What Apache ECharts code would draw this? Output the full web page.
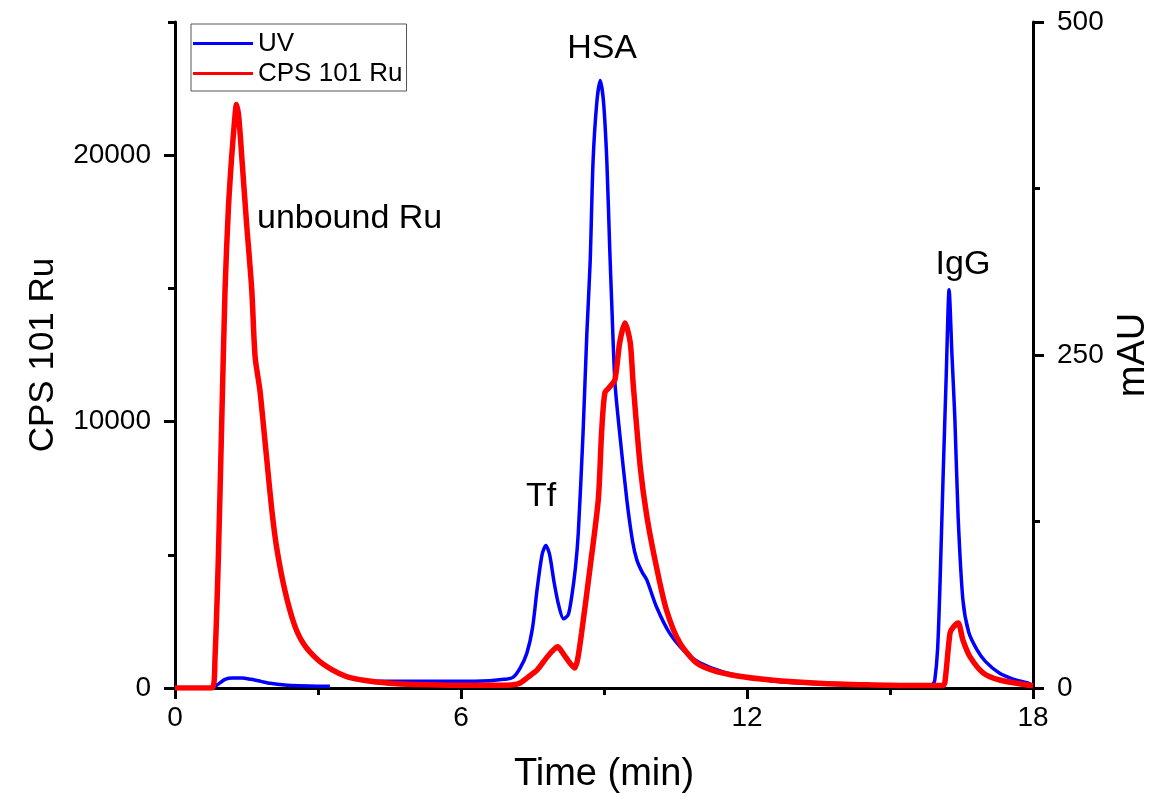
<!DOCTYPE html>
<html>
<head>
<meta charset="utf-8">
<script src="https://cdn.jsdelivr.net/npm/echarts@6/dist/echarts.min.js"></script>
<style>
html,body{margin:0;padding:0;background:#fff;}
#chart{width:1153px;height:801px;}
</style>
</head>
<body>
<div id="chart"></div>
<script>
// UV trace (mAU, right axis)
var uvTime = [0,0.5,0.75,0.85,0.95,1.05,1.2,1.4,1.6,1.8,2.0,2.3,2.6,3.0,3.25,3.3,4.0,4.1,5.0,6.0,6.6,6.9,7.09,7.24,7.38,7.5,7.6,7.7,7.78,7.86,7.95,8.05,8.15,8.25,8.32,8.4,8.46,8.56,8.64,8.71,8.77,8.85,8.92,8.99,9.06,9.12,9.16,9.23,9.33,9.48,9.6,9.69,9.8,9.9,10.1,10.38,10.73,11.01,11.5,12,12.5,13,14,15,15.8,15.9,15.94,16.0,16.05,16.11,16.18,16.24,16.3,16.36,16.43,16.53,16.65,16.82,17.0,17.3,17.6,17.87,18];
var uvValues = [0,0,0.3,1.5,4,6.5,7.5,7.5,6.5,5,3.5,2.2,1.6,1.3,1.3,null,null,5,5,5,5.5,6.5,8,15,26,45,75,100,107,100,80,62,52,55,68,90,116,191,266,320,395,440,456,440,395,330,291,229,191,141,110,96,87,81,61,41,26,19,12,8,5.5,4,2.5,1.8,1.8,3,6,30,79,154,235,299,250,203,128,66,42,29,20,11,6.5,4,2];

// 101Ru ICP-MS trace (CPS, left axis)
var ruTime = [0,0.78,0.84,0.91,0.98,1.05,1.12,1.19,1.25,1.29,1.34,1.40,1.5,1.61,1.68,1.78,1.85,1.92,2.03,2.13,2.3,2.5,2.7,3.0,3.3,3.6,4.0,4.5,5.0,6.0,6.8,7.1,7.24,7.4,7.6,7.8,7.95,8.03,8.1,8.2,8.3,8.39,8.45,8.53,8.71,8.88,8.95,9.02,9.13,9.23,9.33,9.44,9.55,9.61,9.76,9.9,10.1,10.31,10.59,10.94,11.3,11.8,12.5,13.5,14.5,15.5,16.1,16.15,16.26,16.33,16.43,16.53,16.68,16.96,17.3,17.87,18];
var ruValues = [0,0,1170,4920,9960,14960,18000,19960,21300,21900,21400,19960,17480,14960,12440,11200,9960,8680,6700,5300,3700,2400,1650,1050,680,430,280,180,130,100,100,120,190,400,680,1150,1450,1550,1400,1150,900,750,1100,2070,4550,7070,9590,11090,11320,11580,12970,13700,12970,11470,8310,6430,4550,2930,1690,940,650,450,300,180,120,90,90,190,2070,2290,2440,1800,1170,560,300,110,80];

// axis ticks
var xTicks = [0,6,12,18];
var leftLabels = [0,10000,20000];
var rightLabels = [0,250,500];

// peak annotations (time, CPS)
var annoText = ['unbound Ru','Tf','HSA','IgG'];
var annoTime = [1.72,7.68,8.96,16.53];
var annoCps = [17630,7180,23985,15900];

function pairs(t, v){ return t.map(function(x,i){ return [x, v[i]]; }); }

var FONT = '"Liberation Sans", Arial, sans-serif';
var chart = echarts.init(document.getElementById('chart'), null, {renderer:'canvas'});

var annoData = annoText.map(function(s,i){
  return {
    name: s, coord: [annoTime[i], annoCps[i]],
    label: {align: i===0 ? 'left' : 'center'}
  };
});

var option = {
  backgroundColor: '#fff',
  animation: false,
  textStyle: {fontFamily: FONT},
  grid: {left:175, right:120, top:22, bottom:113, outerBoundsMode:'none', containLabel:false},
  legend: {
    left: 191, top: 24, orient: 'vertical',
    data: ['UV','CPS 101 Ru'],
    icon: 'rect', itemWidth: 60, itemHeight: 3, itemGap: 1,
    borderColor: '#555', borderWidth: 1, padding: [5,4,3,2],
    textStyle: {fontSize: 26, color:'#000', fontFamily: FONT, lineHeight: 29}
  },
  xAxis: {
    type: 'value', min: 0, max: 18, interval: 6,
    name: 'Time (min)', nameLocation: 'middle', nameGap: 68,
    nameTextStyle: {fontSize: 38, color:'#000', fontFamily: FONT},
    axisLine: {show:true, onZero:false, lineStyle:{color:'#000', width:3}},
    axisTick: {show:true, inside:false, length:11, lineStyle:{color:'#000', width:3}},
    minorTick: {show:true, splitNumber:2, length:7, lineStyle:{color:'#000', width:3}},
    axisLabel: {fontSize:28, color:'#000', margin:16, fontFamily: FONT},
    splitLine: {show:false}
  },
  yAxis: [
    {
      type:'value', position:'left', min:0, max:25000, interval:5000,
      name:'CPS 101 Ru', nameLocation:'middle', nameGap:114, nameRotate:90,
      nameTextStyle:{fontSize:35, color:'#000', fontFamily: FONT},
      axisLine:{show:true, onZero:false, lineStyle:{color:'#000', width:3}},
      axisTick:{show:true, length:11, customValues: leftLabels, lineStyle:{color:'#000', width:3}},
      axisLabel:{fontSize:28, color:'#000', margin:24, customValues: leftLabels, fontFamily: FONT,
        formatter: function(v){ return String(v); }},
      splitLine:{show:false}
    },
    {
      type:'value', position:'right', min:0, max:500, interval:125,
      name:'mAU', nameLocation:'middle', nameGap:78, nameRotate:90,
      nameTextStyle:{fontSize:38, color:'#000', fontFamily: FONT},
      axisLine:{show:true, onZero:false, lineStyle:{color:'#000', width:3}},
      axisTick:{show:true, length:11, customValues: rightLabels, lineStyle:{color:'#000', width:3}},
      axisLabel:{fontSize:28, color:'#000', margin:24, customValues: rightLabels, fontFamily: FONT,
        formatter: function(v){ return String(v); }},
      splitLine:{show:false}
    },
    {
      type:'value', position:'left', min:0, max:25000, interval:5000,
      axisLine:{show:false}, axisLabel:{show:false}, splitLine:{show:false},
      axisTick:{show:true, length:7, lineStyle:{color:'#000', width:3}}
    },
    {
      type:'value', position:'right', min:0, max:500, interval:125,
      axisLine:{show:false}, axisLabel:{show:false}, splitLine:{show:false},
      axisTick:{show:true, length:7, lineStyle:{color:'#000', width:3}}
    }
  ],
  series: [
    {
      name:'UV', type:'line', yAxisIndex:1, data: pairs(uvTime, uvValues),
      showSymbol:false, symbol:'none', smooth:0.25, connectNulls:false,
      lineStyle:{color:'#0000ff', width:3.5}, itemStyle:{color:'#0000ff'}, z:2
    },
    {
      name:'CPS 101 Ru', type:'line', yAxisIndex:0, data: pairs(ruTime, ruValues),
      showSymbol:false, symbol:'none', smooth:0.25,
      lineStyle:{color:'#ff0000', width:5.5}, itemStyle:{color:'#ff0000'}, z:3,
      markPoint:{
        symbol:'circle', symbolSize:1, itemStyle:{color:'rgba(0,0,0,0)'},
        label:{show:true, position:'inside', formatter:'{b}', fontSize:34, color:'#000', fontFamily: FONT},
        data: annoData
      }
    }
  ]
};
chart.setOption(option);
</script>
</body>
</html>
